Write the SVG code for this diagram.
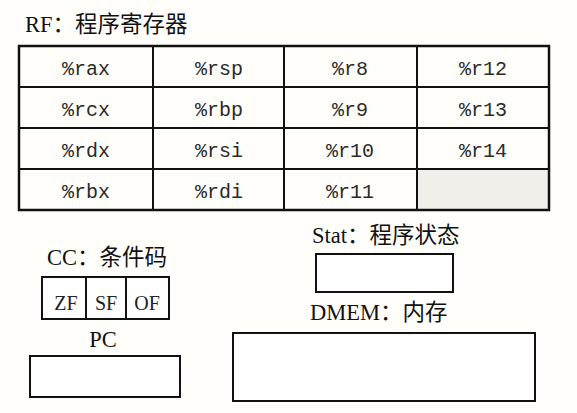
<svg xmlns="http://www.w3.org/2000/svg" width="577" height="413" viewBox="0 0 577 413">
<style>
.bg{fill:#fffefb}
.box{fill:#ffffff;stroke:#111;stroke-width:2}
.ln{stroke:#111;stroke-width:2;fill:none}
.lbl{font-family:"Liberation Serif","Noto Sans CJK SC",serif;font-size:22.5px;fill:#111}
.reg{font-family:"Liberation Mono",monospace;font-size:20px;fill:#2a2a2a;text-anchor:middle}
.flag{font-family:"Liberation Serif",serif;font-size:20px;fill:#222;text-anchor:middle}
</style>
<rect class="bg" x="0" y="0" width="577" height="413"/>
<g id="rf">
<text class="lbl" x="25" y="32">RF：程序寄存器</text>
<rect x="417" y="169" width="132" height="41" fill="#f2eeea"/>
<rect x="19" y="46" width="530" height="164" fill="none" stroke="#111" stroke-width="2.5"/>
<path class="ln" d="M153 46V210M284 46V210M417 46V210M19 87H549M19 128H549M19 169H549"/>
<text class="reg" x="86" y="75">%rax</text>
<text class="reg" x="219" y="75">%rsp</text>
<text class="reg" x="350" y="75">%r8</text>
<text class="reg" x="483" y="75">%r12</text>
<text class="reg" x="86" y="116">%rcx</text>
<text class="reg" x="219" y="116">%rbp</text>
<text class="reg" x="350" y="116">%r9</text>
<text class="reg" x="483" y="116">%r13</text>
<text class="reg" x="86" y="157">%rdx</text>
<text class="reg" x="219" y="157">%rsi</text>
<text class="reg" x="350" y="157">%r10</text>
<text class="reg" x="483" y="157">%r14</text>
<text class="reg" x="86" y="198">%rbx</text>
<text class="reg" x="219" y="198">%rdi</text>
<text class="reg" x="350" y="198">%r11</text>
</g>
<g id="cc">
<text class="lbl" x="47" y="265">CC：条件码</text>
<rect class="box" x="42" y="277" width="127" height="42"/>
<path class="ln" d="M86 277V319M126 277V319"/>
<text class="flag" x="66" y="310">ZF</text>
<text class="flag" x="106" y="310">SF</text>
<text class="flag" x="147" y="310">OF</text>
</g>
<g id="pc">
<text class="lbl" x="103" y="347" text-anchor="middle">PC</text>
<rect class="box" x="30" y="356" width="150" height="41"/>
</g>
<g id="stat">
<text class="lbl" x="312" y="243">Stat：程序状态</text>
<rect class="box" x="316" y="254" width="137" height="38"/>
</g>
<g id="dmem">
<text class="lbl" x="310" y="320">DMEM：内存</text>
<rect class="box" x="233" y="333" width="302" height="68"/>
</g>
<g id="connectors"></g>
</svg>
